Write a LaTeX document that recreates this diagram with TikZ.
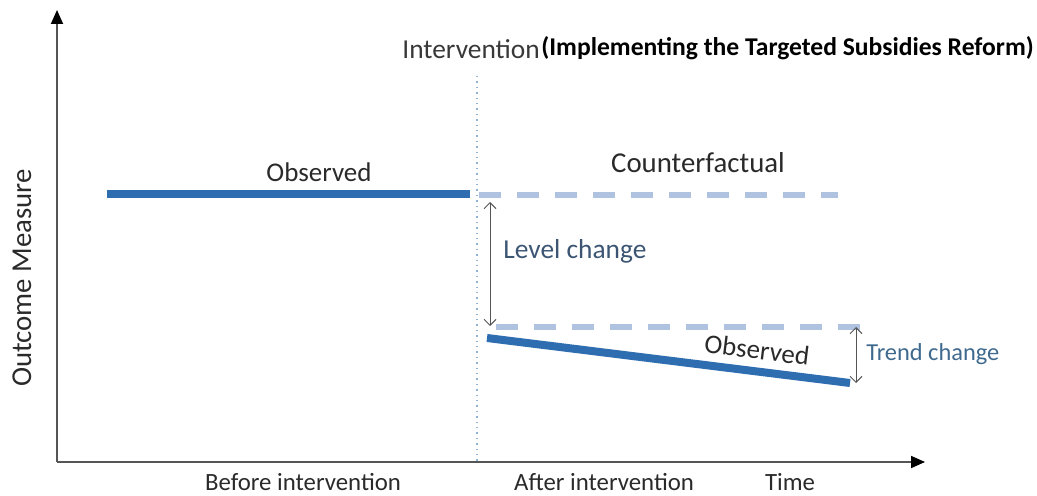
\documentclass[tikz,border=0pt]{standalone}
\usepackage{fontspec}
\setmainfont{Carlito}
\usepackage{tikz}
\usetikzlibrary{arrows.meta, positioning}
\definecolor{obsblue}{HTML}{2E6DB0}
\definecolor{cfblue}{HTML}{AFC3E0}
\definecolor{dotblue}{HTML}{8DB3D6}
\definecolor{lvltext}{HTML}{3B5573}
\definecolor{trdtext}{HTML}{3F6A8E}
\definecolor{axisgray}{HTML}{555555}
\definecolor{txtgray}{HTML}{2A2A2A}

\begin{document}
\begin{tikzpicture}[x=0.5pt, y=-0.5pt,
    axis/.style={draw=axisgray, line width=0.9pt, -{Triangle[length=7pt, width=6pt, black]}},
    obsline/.style={draw=obsblue, line width=4pt},
    cfline/.style={draw=cfblue, line width=2.6pt, dash pattern=on 11pt off 8pt},
    change/.style={draw=axisgray, line width=0.5pt, {Straight Barb[length=3pt]}-{Straight Barb[length=3pt]}},
    lbl/.style={inner sep=0pt, text=txtgray, font=\fontsize{13.5}{15}\selectfont},
    xlbl/.style={inner sep=0pt, text=txtgray, font=\fontsize{12.4}{14}\selectfont}]
    \useasboundingbox (0,0) rectangle (1037,496);

    % axes
    \coordinate (origin) at (57,462);
    \coordinate (ytop) at (57,10);
    \coordinate (xend) at (925,462);
    \draw[axis] (origin) -- (ytop);
    \draw[axis] (origin) -- (xend);
    \node[lbl, rotate=90, font=\fontsize{14.4}{16}\selectfont] (ylab) at (22,278) {Outcome Measure};

    % intervention line
    \coordinate (itop) at (477,76);
    \coordinate (ibot) at (477,462);
    \draw[dotblue, line width=0.7pt, dotted] (itop) -- (ibot);
    \node[lbl, anchor=west, text=black!78, font=\fontsize{13.7}{15}\selectfont] (interv) at (402,49) {Intervention};
    \node[inner sep=0pt, anchor=west, font=\fontsize{12.8}{14}\selectfont\bfseries] (reform) at (541,48)
        {(Implementing the Targeted Subsidies Reform)};

    % before
    \coordinate (pre1) at (107,194);
    \coordinate (pre2) at (470,194);
    \draw[obsline] (pre1) -- (pre2);
    \node[lbl] (obspre) at (319,172) {Observed};

    % counterfactual
    \coordinate (cf1) at (479,195);
    \coordinate (cf2) at (838,195);
    \draw[cfline] (cf1) -- (cf2);
    \node[lbl, font=\fontsize{14.4}{16}\selectfont] (cflab) at (698,163) {Counterfactual};

    % after
    \coordinate (lv1) at (496,327);
    \coordinate (lv2) at (860,327);
    \draw[cfline] (lv1) -- (lv2);
    \coordinate (post1) at (487,338);
    \coordinate (post2) at (850,383);
    \draw[obsline] (post1) -- (post2);
    \node[lbl, rotate=-7] (obspost) at (757,350) {Observed};

    % changes
    \coordinate (lc1) at (490,202);
    \coordinate (lc2) at (490,326);
    \draw[change] (lc1) -- (lc2);
    \node[lbl, anchor=west, text=lvltext, font=\fontsize{13.7}{15}\selectfont] (lclab) at (503,251) {Level change};
    \coordinate (tc1) at (856,327);
    \coordinate (tc2) at (856,383);
    \draw[change] (tc1) -- (tc2);
    \node[lbl, anchor=west, text=trdtext, font=\fontsize{12.2}{14}\selectfont] (tclab) at (866,354) {Trend change};

    % x labels
    \node[xlbl] (before) at (303,482) {Before intervention};
    \node[xlbl] (after) at (604,482) {After intervention};
    \node[xlbl] (time) at (790,482) {Time};
\end{tikzpicture}
\end{document}
